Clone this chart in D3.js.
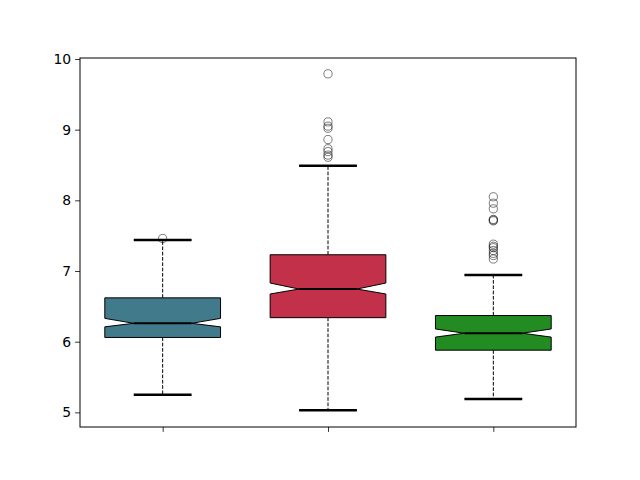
<!DOCTYPE html>
<html>
<head>
<meta charset="utf-8">
<script src="https://cdn.jsdelivr.net/npm/d3@7"></script>
<style>
  body { margin: 0; background: #fff; }
  svg { display: block; }
</style>
</head>
<body>
<div id="chart"></div>
<script>
var margin = {top: 58, right: 64, bottom: 53, left: 80};
var width = 640, height = 480;
var chartWidth = width - margin.left - margin.right;
var chartHeight = height - margin.top - margin.bottom;

// data
var groups = [1, 2, 3];
var colors = ["#417b8b", "#c3304a", "#228b22"];
var q1 = [6.06, 6.34, 5.88];
var median = [6.26, 6.745, 6.12];
var q3 = [6.62, 7.23, 6.37];
var notchLo = [6.21, 6.675, 6.065];
var notchHi = [6.33, 6.83, 6.18];
var whiskerLo = [5.25, 5.03, 5.19];
var whiskerHi = [7.44, 8.49, 6.945];
var outliers = [
  [7.46],
  [9.79, 9.11, 9.05, 9.02, 8.86, 8.73, 8.69, 8.64, 8.61],
  [8.05, 7.96, 7.88, 7.73, 7.72, 7.71, 7.38, 7.35, 7.33, 7.29, 7.25, 7.22, 7.17]
];
var yTicks = [5, 6, 7, 8, 9, 10];

var boxes = groups.map(function(g, i) {
  return {g: g, color: colors[i], q1: q1[i], med: median[i], q3: q3[i],
          nlo: notchLo[i], nhi: notchHi[i], wlo: whiskerLo[i], whi: whiskerHi[i],
          out: outliers[i]};
});

var svg = d3.select("#chart").append("svg")
  .attr("width", width)
  .attr("height", height)
  .append("g")
  .attr("transform", `translate(${margin.left}, ${margin.top})`);

var xScale = d3.scaleLinear().domain([0.5, 3.5]).range([0, chartWidth]);
var yScale = d3.scaleLinear().domain([4.793, 10.014]).range([chartHeight, 0]);

var boxW = 0.35, capW = 0.175;

var yAxis = d3.axisLeft(yScale).tickValues(yTicks).tickSize(4.9).tickPadding(4).tickFormat(d3.format("d"));
var xAxis = d3.axisBottom(xScale).tickValues(groups).tickSize(4.9).tickFormat("");

var bx = svg.selectAll("g.box")
  .data(boxes)
  .join("g")
  .attr("class", "box");

// whiskers
bx.append("line")
  .attr("x1", d => xScale(d.g)).attr("x2", d => xScale(d.g))
  .attr("y1", d => yScale(d.q3)).attr("y2", d => yScale(d.whi))
  .attr("stroke", "#000").attr("stroke-width", 1).attr("stroke-dasharray", "3.7,1.6");
bx.append("line")
  .attr("x1", d => xScale(d.g)).attr("x2", d => xScale(d.g))
  .attr("y1", d => yScale(d.q1)).attr("y2", d => yScale(d.wlo))
  .attr("stroke", "#000").attr("stroke-width", 1).attr("stroke-dasharray", "3.7,1.6");

// caps
["whi", "wlo"].forEach(function(k) {
  bx.append("line")
    .attr("x1", d => xScale(d.g - capW)).attr("x2", d => xScale(d.g + capW))
    .attr("y1", d => yScale(d[k])).attr("y2", d => yScale(d[k]))
    .attr("stroke", "#000").attr("stroke-width", 2.5);
});

// notched box
bx.append("path")
  .attr("d", function(d) {
    var l = xScale(d.g - boxW), r = xScale(d.g + boxW);
    var nl = xScale(d.g - boxW / 2), nr = xScale(d.g + boxW / 2);
    var p = d3.path();
    p.moveTo(l, yScale(d.q1));
    p.lineTo(r, yScale(d.q1));
    p.lineTo(r, yScale(d.nlo));
    p.lineTo(nr, yScale(d.med));
    p.lineTo(r, yScale(d.nhi));
    p.lineTo(r, yScale(d.q3));
    p.lineTo(l, yScale(d.q3));
    p.lineTo(l, yScale(d.nhi));
    p.lineTo(nl, yScale(d.med));
    p.lineTo(l, yScale(d.nlo));
    p.closePath();
    return p.toString();
  })
  .attr("fill", d => d.color)
  .attr("stroke", "#000")
  .attr("stroke-width", 1)
  .attr("stroke-linejoin", "miter");

// median
bx.append("line")
  .attr("x1", d => xScale(d.g - boxW / 2)).attr("x2", d => xScale(d.g + boxW / 2))
  .attr("y1", d => yScale(d.med)).attr("y2", d => yScale(d.med))
  .attr("stroke", "#000").attr("stroke-width", 2);

// fliers
bx.selectAll("circle")
  .data(d => d.out.map(v => ({g: d.g, v: v})))
  .join("circle")
  .attr("cx", d => xScale(d.g))
  .attr("cy", d => yScale(d.v))
  .attr("r", 4.1)
  .attr("fill", "none")
  .attr("stroke", "#000")
  .attr("stroke-opacity", 0.5)
  .attr("stroke-width", 1);

svg.append("g")
  .attr("class", "y axis")
  .call(yAxis)
  .call(g => g.select(".domain").remove())
  .selectAll("text")
    .style("font-family", "DejaVu Sans")
    .style("font-size", "13.9px")
    .attr("fill", "#000");

svg.append("g")
  .attr("class", "x axis")
  .attr("transform", `translate(0,${chartHeight})`)
  .call(xAxis)
  .call(g => g.select(".domain").remove());

svg.selectAll(".tick line").attr("stroke", "#000").attr("stroke-width", 0.8);

svg.append("rect")
  .attr("x", 0).attr("y", 0)
  .attr("width", chartWidth).attr("height", chartHeight)
  .attr("fill", "none")
  .attr("stroke", "#000")
  .attr("stroke-width", 1);
</script>
</body>
</html>
